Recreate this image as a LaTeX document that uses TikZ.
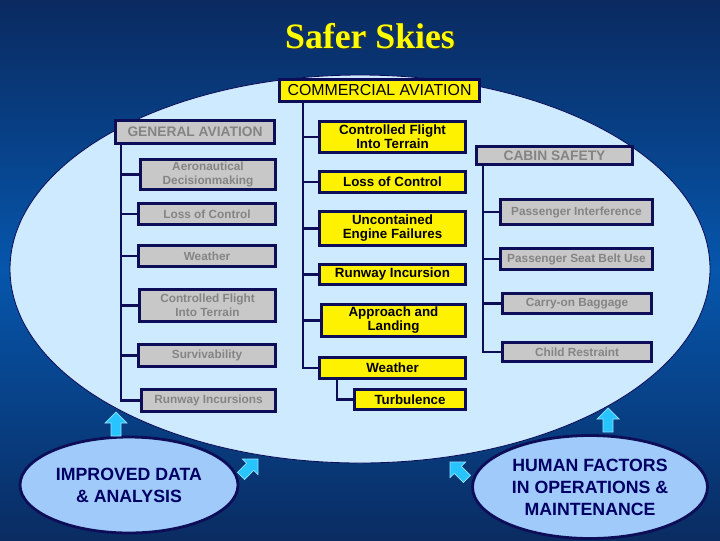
\documentclass[tikz,border=0pt]{standalone}
\usepackage{fontspec}
\setmainfont{Liberation Sans}
\newfontfamily\titlefont{Liberation Serif}
\usetikzlibrary{shapes.geometric}
\definecolor{navy}{RGB}{14,14,88}
\definecolor{bgtop}{RGB}{10,42,96}
\definecolor{bgmid}{RGB}{6,86,172}
\definecolor{bgbot}{RGB}{10,44,98}
\definecolor{skyfill}{RGB}{206,234,255}
\definecolor{boxgray}{RGB}{200,200,200}
\definecolor{txtgray}{RGB}{132,132,132}
\definecolor{ovalfill}{RGB}{160,202,250}
\definecolor{ovaltext}{RGB}{0,0,100}
\definecolor{arrcyan}{RGB}{40,196,255}
\definecolor{arredge}{RGB}{150,228,255}
\definecolor{titleyellow}{RGB}{255,255,0}
\tikzset{
  wh/.style 2 args={minimum width=#1*0.025cm-2.1pt, minimum height=#2*0.025cm-2.1pt},
  basebox/.style={draw=navy, line width=2.1pt, inner sep=0pt, align=center},
  gbox/.style={basebox, fill=boxgray, text=txtgray, font=\fontsize{8.4}{9.8}\selectfont\bfseries},
  ghead/.style={basebox, fill=boxgray, text=txtgray, font=\fontsize{9.8}{12}\selectfont\bfseries},
  ybox/.style={basebox, fill=yellow, text=black, font=\fontsize{9.5}{10}\selectfont\bfseries},
  yhead/.style={basebox, fill=yellow, text=black, font=\fontsize{11.3}{13}\selectfont},
  conn/.style={draw=navy, line width=1.8pt},
  oval/.style={ellipse, draw=navy, line width=2pt, fill=ovalfill, text=ovaltext, inner sep=0pt, align=center,
    font=\fontsize{12.6}{15.6}\selectfont\bfseries},
  barrow/.pic={\path[fill=arrcyan, draw=arredge, line width=0.5pt]
    (0,0) -- (-11,11) -- (-5,11) -- (-5,24) -- (5,24) -- (5,11) -- (11,11) -- cycle;}
}
\begin{document}
\begin{tikzpicture}[x=0.025cm,y=-0.025cm]
\useasboundingbox (0,0) rectangle (720,540);
\shade[top color=bgtop, bottom color=bgbot, middle color=bgmid] (0,0) rectangle (720,540);
% title
\node[font=\titlefont\bfseries\fontsize{25.4}{30}\selectfont, text=black!80] at (371.5,37.5) {Safer Skies};
\node[font=\titlefont\bfseries\fontsize{25.4}{30}\selectfont, text=titleyellow] (title) at (370,36) {Safer Skies};
% big ellipse
\path[fill=skyfill, draw=navy, line width=0.6pt] (360,269) ellipse [x radius=350, y radius=194];

% commercial aviation
\node[yhead, wh={203}{25}] (ca) at (379.5,90.5) {COMMERCIAL AVIATION};
\node[ybox, wh={149}{34}] (ccfit) at (392.5,137) {Controlled Flight\\Into Terrain};
\node[ybox, wh={149}{24}] (closs) at (392.5,182) {Loss of Control};
\node[ybox, wh={149}{37}] (unc) at (392.5,228.5) {Uncontained\\Engine Failures};
\node[ybox, wh={149}{23}] (crun) at (392.5,274.5) {Runway Incursion};
\node[ybox, wh={147}{35}] (appr) at (393.5,320.5) {Approach and\\Landing};
\node[ybox, wh={149}{24}] (cwx) at (392.5,368) {Weather};
\node[ybox, wh={114}{23}] (turb) at (410,399.5) {Turbulence};

% general aviation
\node[ghead, wh={162}{26}] (ga) at (195,132) {GENERAL AVIATION};
\node[gbox, wh={138}{33}] (ad) at (208,174.5) {Aeronautical\\Decisionmaking};
\node[gbox, wh={140}{24}] (gloss) at (207,214) {Loss of Control};
\node[gbox, wh={140}{24}] (gwx) at (207,256) {Weather};
\node[gbox, wh={139}{35}] (gcfit) at (207.5,305.5) {Controlled Flight\\Into Terrain};
\node[gbox, wh={140}{25}] (surv) at (207,355.5) {Survivability};
\node[gbox, wh={137}{25}] (grun) at (208.5,400.5) {Runway Incursions};

% cabin safety
\node[ghead, wh={159}{21}] (cabin) at (554.5,155.5) {CABIN SAFETY};
\node[gbox, wh={155}{28}] (pi) at (576.5,212) {Passenger Interference};
\node[gbox, wh={155}{24}] (psb) at (576.5,259) {Passenger Seat Belt Use};
\node[gbox, wh={152}{23}] (cob) at (577,303.5) {Carry-on Baggage};
\node[gbox, wh={152}{22}] (cr) at (577,352) {Child Restraint};

% trunks
\coordinate (gaT) at (121,145);
\coordinate (caT) at (303,103);
\coordinate (cabT) at (483,166);
\coordinate (wxT) at (337,380);
\begin{scope}[conn]
\draw (gaT) |- (ad.west);
\draw (gaT) |- (gloss.west);
\draw (gaT) |- (gwx.west);
\draw (gaT) |- (gcfit.west);
\draw (gaT) |- (surv.west);
\draw (gaT) |- (grun.west);
\draw (caT) |- (ccfit.west);
\draw (caT) |- (closs.west);
\draw (caT) |- (unc.west);
\draw (caT) |- (crun.west);
\draw (caT) |- (appr.west);
\draw (caT) |- (cwx.west);
\draw (wxT) |- (turb.west);
\draw (cabT) |- (pi.west);
\draw (cabT) |- (psb.west);
\draw (cabT) |- (cob.west);
\draw (cabT) |- (cr.west);
\end{scope}
% bottom ovals
\node[oval, minimum width=218*0.025cm, minimum height=96*0.025cm] (ida) at (129,485) {IMPROVED DATA\\\& ANALYSIS};
\node[oval, minimum width=235*0.025cm, minimum height=103*0.025cm] (hf) at (590,487) {HUMAN FACTORS\\IN OPERATIONS \&\\MAINTENANCE};
% block arrows
\pic at (116,412) {barrow};
\pic[rotate=-45] at (258,459) {barrow};
\pic at (608,408) {barrow};
\pic[rotate=45] at (450,462) {barrow};
\end{tikzpicture}
\end{document}
